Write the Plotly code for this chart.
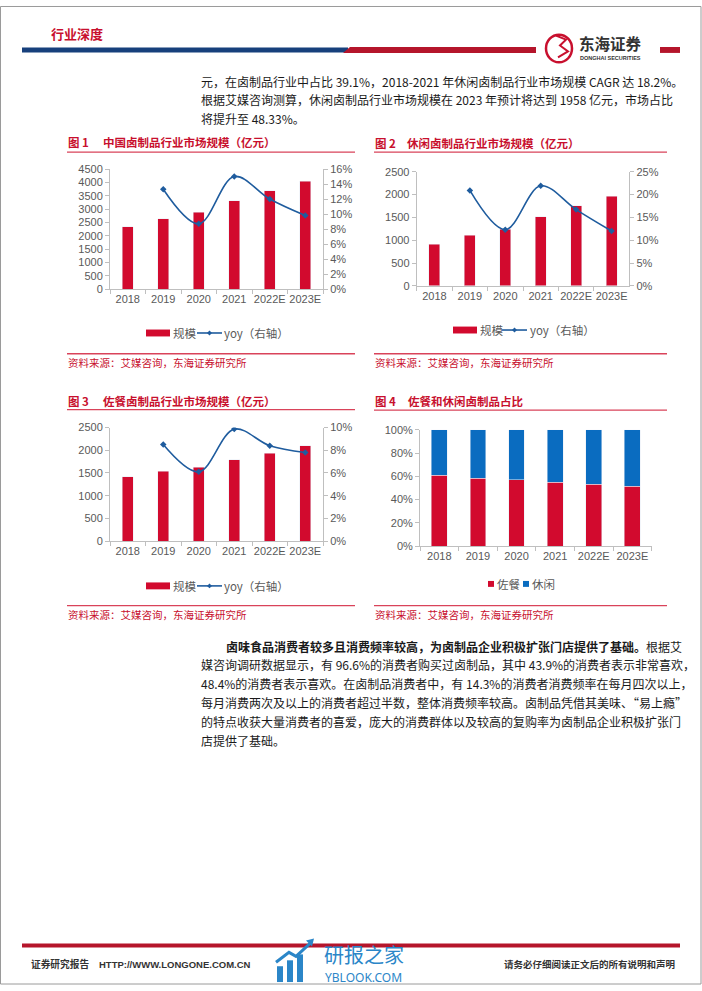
import plotly.graph_objects as go

W, H = 702, 991

# ---------------- data ----------------
years = ["2018", "2019", "2020", "2021", "2022E", "2023E"]
yoy_years = ["2019", "2020", "2021", "2022E", "2023E"]

total_scale = [2331, 2638, 2873, 3304, 3687, 4050]          # 图1 规模(亿元)
total_yoy = [0.133, 0.087, 0.150, 0.120, 0.098]             # 图1 yoy

leisure_scale = [916, 1109, 1243, 1513, 1753, 1958]         # 图2 规模
leisure_yoy = [0.209, 0.123, 0.219, 0.167, 0.120]           # 图2 yoy

dish_scale = [1413, 1536, 1630, 1790, 1935, 2094]           # 图3 规模
dish_yoy = [0.085, 0.061, 0.0986, 0.084, 0.078]             # 图3 yoy

dish_share = [0.609, 0.584, 0.569, 0.547, 0.530, 0.5167]    # 图4 佐餐
leisure_share = [0.391, 0.416, 0.431, 0.453, 0.470, 0.4833] # 图4 休闲

left_ticks_1 = [0, 4500, 500]
right_ticks_1 = [0, 0.16, 0.02]
left_ticks_2 = [0, 2500, 500]
right_ticks_2 = [0, 0.25, 0.05]
left_ticks_3 = [0, 2500, 500]
right_ticks_3 = [0, 0.10, 0.02]

# ---------------- styles ----------------
RED = "#d20a2e"
TRED = "#c8102e"
BLUE_LINE = "#1f5c9e"
BLUE_BAR = "#0a6cc0"
GRAY = "#595959"
AXC = "#bfbfbf"
CJK = "Noto Sans CJK SC"
LAT = "Liberation Sans, Arial"


def X(px):
    return px / W


def Y(py):
    return 1 - py / H


fig = go.Figure()

# chart 1
fig.add_trace(go.Bar(x=years, y=total_scale, marker_color=RED, width=0.31,
                     xaxis="x", yaxis="y", name="规模", showlegend=False))
fig.add_trace(go.Scatter(x=yoy_years, y=total_yoy, mode="lines+markers",
                         line=dict(color=BLUE_LINE, width=1.6, shape="spline", smoothing=1),
                         marker=dict(symbol="diamond", size=5, color=BLUE_LINE),
                         xaxis="x", yaxis="y2", name="yoy（右轴）", showlegend=False))
# chart 2
fig.add_trace(go.Bar(x=years, y=leisure_scale, marker_color=RED, width=0.31,
                     xaxis="x2", yaxis="y3", name="规模", showlegend=False))
fig.add_trace(go.Scatter(x=yoy_years, y=leisure_yoy, mode="lines+markers",
                         line=dict(color=BLUE_LINE, width=1.6, shape="spline", smoothing=1),
                         marker=dict(symbol="diamond", size=5, color=BLUE_LINE),
                         xaxis="x2", yaxis="y4", name="yoy（右轴）", showlegend=False))
# chart 3
fig.add_trace(go.Bar(x=years, y=dish_scale, marker_color=RED, width=0.31,
                     xaxis="x3", yaxis="y5", name="规模", showlegend=False))
fig.add_trace(go.Scatter(x=yoy_years, y=dish_yoy, mode="lines+markers",
                         line=dict(color=BLUE_LINE, width=1.6, shape="spline", smoothing=1),
                         marker=dict(symbol="diamond", size=5, color=BLUE_LINE),
                         xaxis="x3", yaxis="y6", name="yoy（右轴）", showlegend=False))
# chart 4
fig.add_trace(go.Bar(x=years, y=dish_share, marker_color=RED, width=0.41,
                     xaxis="x4", yaxis="y7", name="佐餐", showlegend=False))
fig.add_trace(go.Bar(x=years, y=leisure_share, marker_color=BLUE_BAR, width=0.41,
                     xaxis="x4", yaxis="y7", name="休闲", showlegend=False))

tickfont = dict(family=LAT, size=11, color=GRAY)
base = dict(showline=True, linecolor=AXC, linewidth=1, ticks="outside", ticklen=4,
            tickcolor=AXC, showgrid=False, zeroline=False, tickfont=tickfont, fixedrange=True)


def xax(x0, x1, anchor):
    d = dict(base)
    d.update(domain=[X(x0), X(x1)], anchor=anchor, type="category", tickangle=0,
             tickson="boundaries", categoryorder="array", categoryarray=years)
    return d


def yax(y0, y1, anchor, t, fmt=None):
    d = dict(base)
    d.update(domain=[Y(y1), Y(y0)], anchor=anchor, range=[t[0], t[1]], dtick=t[2], tick0=0)
    if fmt:
        d["tickformat"] = fmt
    return d


def yax_r(over, anchor, t, fmt):
    d = dict(base)
    d.update(overlaying=over, side="right", anchor=anchor, range=[t[0], t[1]],
             dtick=t[2], tick0=0, tickformat=fmt)
    return d


layout = dict(
    width=W, height=H, margin=dict(l=0, r=0, t=0, b=0),
    paper_bgcolor="white", plot_bgcolor="rgba(0,0,0,0)", barmode="stack",
    showlegend=False,
    xaxis=xax(110, 323, "y"),
    yaxis=yax(165, 286.7, "x", left_ticks_1),
    yaxis2=yax_r("y", "x", right_ticks_1, ".0%"),
    xaxis2=xax(416.7, 629.3, "y3"),
    yaxis3=yax(167.7, 283.3, "x2", left_ticks_2),
    yaxis4=yax_r("y3", "x2", right_ticks_2, ".0%"),
    xaxis3=xax(110, 323, "y5"),
    yaxis5=yax(426.7, 541.7, "x3", left_ticks_3),
    yaxis6=yax_r("y5", "x3", right_ticks_3, ".0%"),
    xaxis4=xax(420, 651.7, "y7"),
    yaxis7=yax(429, 546.7, "x4", [0, 1, 0.2], ".0%"),
)
fig.update_layout(**layout)

shapes = []
ann = []


def rect(x0, y0, x1, y1, color, line=None):
    shapes.append(dict(type="rect", xref="paper", yref="paper",
                       x0=X(x0), x1=X(x1), y0=Y(y1), y1=Y(y0),
                       fillcolor=color, line=dict(width=0) if line is None else line, layer="above"))


def hline(x0, x1, y, color, width=1):
    shapes.append(dict(type="line", xref="paper", yref="paper",
                       x0=X(x0), x1=X(x1), y0=Y(y), y1=Y(y),
                       line=dict(color=color, width=width), layer="above"))


def path(pts, color, fill=True, width=1):
    p = "M " + " L ".join(f"{X(a):.5f},{Y(b):.5f}" for a, b in pts) + (" Z" if fill else "")
    d = dict(type="path", xref="paper", yref="paper", path=p, layer="above",
             line=dict(color=color, width=width if not fill else 0))
    if fill:
        d["fillcolor"] = color
    shapes.append(d)


def T(x, y, s, size=12, color="#1a1a1a", xa="left", font=CJK):
    ann.append(dict(x=X(x), y=Y(y), xref="paper", yref="paper", text=s, showarrow=False,
                    xanchor=xa, yanchor="middle", borderpad=0,
                    font=dict(family=font, size=size, color=color)))


# page border
shapes.append(dict(type="rect", xref="paper", yref="paper", x0=X(0.5), x1=X(701), y0=Y(990), y1=Y(0.5),
                   line=dict(color="#9a9a9a", width=1), fillcolor="rgba(0,0,0,0)", layer="below"))

# header
T(50, 28, "<b>行业深度</b>", 13, TRED)
rect(22, 42, 348, 47, "#17407c")
path([(350, 41.5), (536, 41.5), (536, 47.5), (343, 47.5)], "#b5152b")
rect(660, 41.5, 680, 47.5, "#b5152b")
# logo swirl
shapes.append(dict(type="circle", xref="paper", yref="paper", x0=X(546), x1=X(572), y0=Y(57), y1=Y(29),
                   line=dict(color="#c8102e", width=2.5), layer="above"))
path([(556, 30), (566, 34), (560, 40), (568, 46), (558, 52)], "#c8102e", fill=False, width=2)
T(578, 37, "<b>东海证券</b>", 15.5, "#333333")
T(579, 53, "<b>DONGHAI SECURITIES</b>", 5.5, "#333333", font=LAT)

# paragraph 1
p1 = ["元，在卤制品行业中占比 39.1%，2018-2021 年休闲卤制品行业市场规模 CAGR 达 18.2%。",
      "根据艾媒咨询测算，休闲卤制品行业市场规模在 2023 年预计将达到 1958 亿元，市场占比",
      "将提升至 48.33%。"]
for i, s in enumerate(p1):
    T(200, 76 + i * 18.7, s, 12)

# chart titles / sources
titles = [(67, 102, 138, "图 1", "中国卤制品行业市场规模（亿元）", 355, 148, 352, 361),
          (374, 406, 139, "图 2", "休闲卤制品行业市场规模（亿元）", 667, 148, 352, 361),
          (67, 102, 400, "图 3", "佐餐卤制品行业市场规模（亿元）", 355, 408.5, 607, 616),
          (374, 407, 400, "图 4", "佐餐和休闲卤制品占比", 667, 409, 607, 616)]
for x0, xt, ty, lab, txt, xe, uy, sy, sty in titles:
    T(x0, ty, f"<b>{lab}</b>", 11.5, TRED)
    T(xt, ty, f"<b>{txt}</b>", 11.5, TRED)
    hline(x0, xe, uy, "#d9435a", 1.3)
    hline(x0, xe, sy, "#d9435a", 1.3)
    T(x0, sty, "资料来源：艾媒咨询，东海证券研究所", 10.5, TRED)


def combo_legend(x_rect, x_txt1, x_line, x_txt2, ly):
    rect(x_rect, ly - 3.5, x_rect + 24, ly + 3.5, RED)
    T(x_txt1, ly, "规模", 11.5, GRAY)
    hline(x_line, x_line + 25, ly, BLUE_LINE, 1.6)
    m = x_line + 12.5
    path([(m, ly - 2.5), (m + 2.5, ly), (m, ly + 2.5), (m - 2.5, ly)], BLUE_LINE)
    T(x_txt2, ly, "yoy（右轴）", 11.5, GRAY)


combo_legend(146, 172, 197, 223, 331)
combo_legend(453, 479, 502, 529, 328)
combo_legend(146, 172, 197, 223, 587)
# chart 4 legend
rect(488, 582, 494, 588, RED)
T(496, 585, "佐餐", 11.5, GRAY)
rect(523, 582, 529, 588, BLUE_BAR)
T(531, 585, "休闲", 11.5, GRAY)

# paragraph 2
p2 = ["<b>卤味食品消费者较多且消费频率较高，为卤制品企业积极扩张门店提供了基础。</b>根据艾",
      "媒咨询调研数据显示，有 96.6%的消费者购买过卤制品，其中 43.9%的消费者表示非常喜欢，",
      "48.4%的消费者表示喜欢。在卤制品消费者中，有 14.3%的消费者消费频率在每月四次以上，",
      "每月消费两次及以上的消费者超过半数，整体消费频率较高。卤制品凭借其美味、“易上瘾”",
      "的特点收获大量消费者的喜爱，庞大的消费群体以及较高的复购率为卤制品企业积极扩张门",
      "店提供了基础。"]
for i, s in enumerate(p2):
    T(225 if i == 0 else 200, 648 + i * 19, s, 12)

# footer
rect(22, 949, 680, 953, "#b5152b")
T(30, 970, "<b>证券研究报告</b>", 9.7, "#333333")
T(98, 970, "<b>HTTP://WWW.LONGONE.COM.CN</b>", 9.5, "#333333", font=LAT)
T(676, 970, "<b>请务必仔细阅读正文后的所有说明和声明</b>", 9.5, "#333333", xa="right")

# watermark
WM = "#2b86c8"
rect(277, 972, 283, 988, WM)
rect(287, 966, 293, 988, WM)
rect(297, 960, 303, 988, WM)
path([(276, 968), (289, 958), (296, 962), (312, 947)], WM, fill=False, width=3)
path([(306, 946), (314, 944), (312, 952)], WM)
T(323, 960, "研报之家", 20, WM)
T(324, 983, "YBLOOK.COM", 12, WM, font="Noto Sans")

fig.update_layout(shapes=shapes, annotations=ann)
fig.write_html("out.html")
